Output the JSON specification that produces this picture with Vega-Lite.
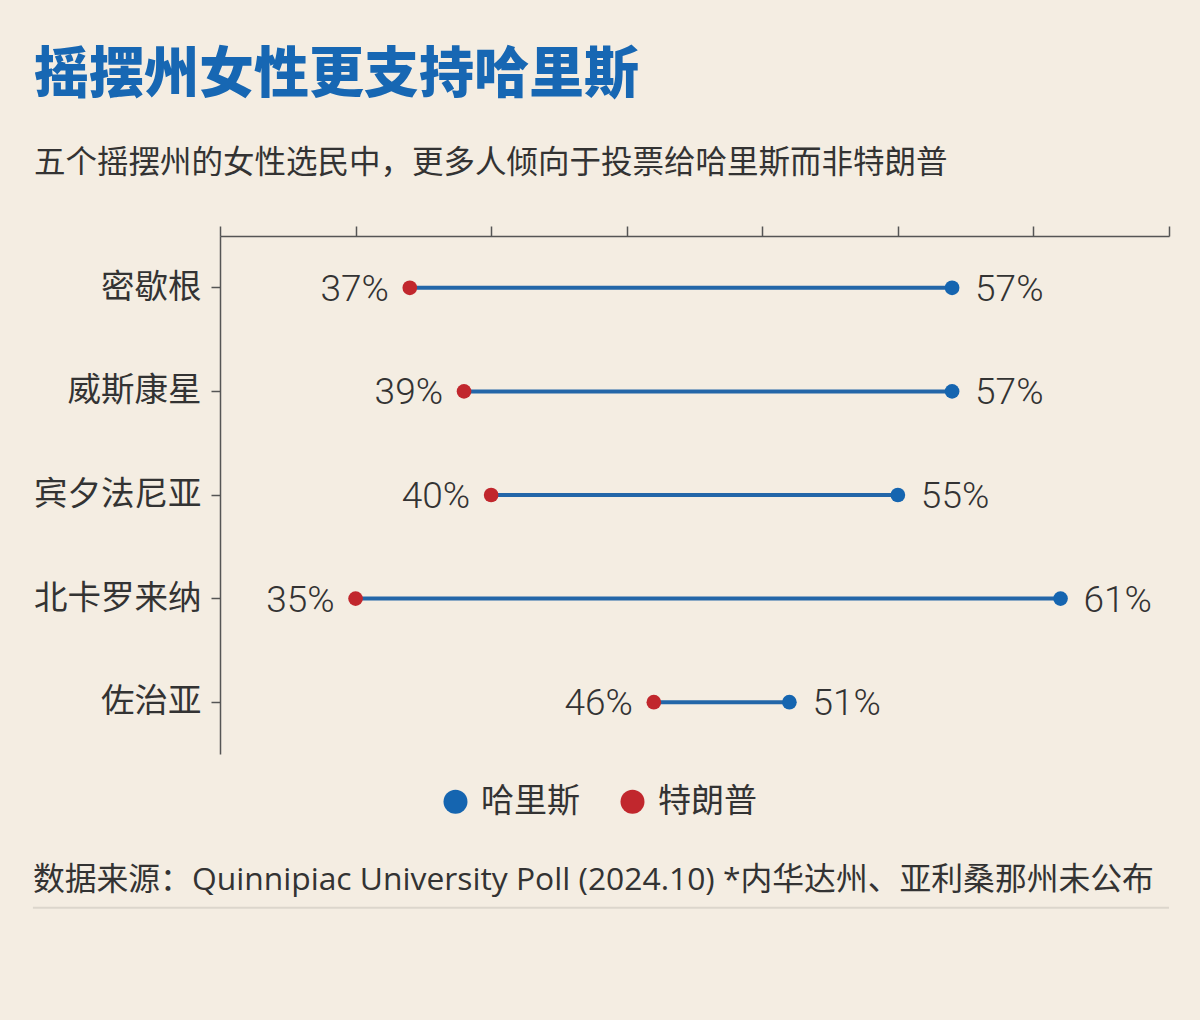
{
  "$schema": "https://vega.github.io/schema/vega-lite/v6.json",
  "width": 949,
  "height": 518,
  "autosize": "none",
  "padding": {"left": 220, "top": 236, "right": 31, "bottom": 266},
  "background": "#f4ede2",
  "config": {"view": {"stroke": null}, "font": "Noto Sans CJK SC"},
  "title": {
    "text": "摇摆州女性更支持哈里斯",
    "subtitle": "五个摇摆州的女性选民中，更多人倾向于投票给哈里斯而非特朗普",
    "anchor": "start",
    "frame": "group",
    "dx": -186,
    "offset": 45,
    "font": "Noto Sans CJK SC",
    "fontSize": 55,
    "fontWeight": 900,
    "color": "#1767b3",
    "subtitleFont": "Noto Sans CJK SC",
    "subtitleFontSize": 31.5,
    "subtitleFontWeight": 400,
    "subtitleColor": "#333333",
    "subtitlePadding": 44
  },
  "layer": [
    {
      "data": {"values": [
        {"州": "密歇根", "哈里斯": 57, "特朗普": 37},
        {"州": "威斯康星", "哈里斯": 57, "特朗普": 39},
        {"州": "宾夕法尼亚", "哈里斯": 55, "特朗普": 40},
        {"州": "北卡罗来纳", "哈里斯": 61, "特朗普": 35},
        {"州": "佐治亚", "哈里斯": 51, "特朗普": 46}
      ]},
      "encoding": {
        "y": {
          "field": "州", "type": "nominal", "sort": null,
          "scale": {"domain": ["密歇根", "威斯康星", "宾夕法尼亚", "北卡罗来纳", "佐治亚"]},
          "axis": {"title": null, "orient": "left", "labelFontSize": 33.5, "labelColor": "#333333", "labelFont": "Noto Sans CJK SC",
                   "tickSize": 9, "tickColor": "#555555", "tickWidth": 1.5, "domainColor": "#555555", "domainWidth": 1.5, "labelPadding": 10}
        }
      },
      "layer": [
        {
          "mark": {"type": "rule", "color": "#2366a8", "strokeWidth": 4},
          "encoding": {
            "x": {"field": "特朗普", "type": "quantitative",
                  "scale": {"domain": [30, 65], "nice": false},
                  "axis": {"orient": "top", "values": [30, 35, 40, 45, 50, 55, 60, 65], "labels": false, "title": null, "grid": false,
                           "tickSize": 10, "tickColor": "#555555", "tickWidth": 1.5, "domainColor": "#555555", "domainWidth": 1.5}},
            "x2": {"field": "哈里斯"}
          }
        },
        {
          "transform": [{"fold": ["哈里斯", "特朗普"], "as": ["候选人", "支持率"]}],
          "mark": {"type": "circle", "size": 215, "opacity": 1},
          "encoding": {
            "x": {"field": "支持率", "type": "quantitative"},
            "color": {"field": "候选人", "type": "nominal",
              "scale": {"domain": ["哈里斯", "特朗普"], "range": ["#1565b0", "#c1272d"]},
              "legend": {"orient": "none", "legendX": 219, "legendY": 549, "direction": "horizontal", "title": null,
                         "symbolType": "circle", "symbolSize": 576, "symbolStrokeWidth": 0, "symbolOpacity": 1,
                         "labelFontSize": 33, "labelColor": "#333333", "labelFont": "Noto Sans CJK SC",
                         "labelOffset": 9, "columnPadding": 36}}
          }
        },
        {
          "transform": [{"calculate": "datum['特朗普'] + '%'", "as": "左标签"}],
          "mark": {"type": "text", "align": "right", "baseline": "middle", "dx": -21, "dy": 2, "font": "Roboto", "fontWeight": 300, "fontSize": 37, "color": "#333333"},
          "encoding": {
            "x": {"field": "特朗普", "type": "quantitative"},
            "text": {"field": "左标签"}
          }
        },
        {
          "transform": [{"calculate": "datum['哈里斯'] + '%'", "as": "右标签"}],
          "mark": {"type": "text", "align": "left", "baseline": "middle", "dx": 23, "dy": 2, "font": "Roboto", "fontWeight": 300, "fontSize": 37, "color": "#333333"},
          "encoding": {
            "x": {"field": "哈里斯", "type": "quantitative"},
            "text": {"field": "右标签"}
          }
        }
      ]
    },
    {
      "data": {"values": [{"注": "数据来源：Quinnipiac University Poll (2024.10) *内华达州、亚利桑那州未公布"}]},
      "layer": [
        {
          "mark": {"type": "rule", "color": "#dcd6cc", "strokeWidth": 2},
          "encoding": {
            "x": {"datum": 23.1, "type": "quantitative", "scale": {"domain": [30, 65], "nice": false}},
            "x2": {"datum": 65},
            "y": {"datum": -0.297, "type": "quantitative", "scale": {"domain": [0, 1], "nice": false}, "axis": null}
          }
        },
        {
          "mark": {"type": "text", "align": "left", "baseline": "middle", "font": "Open Sans, Noto Sans CJK SC", "fontSize": 31.8, "fontWeight": 400, "color": "#333333"},
          "encoding": {
            "x": {"datum": 23.1, "type": "quantitative"},
            "y": {"datum": -0.243, "type": "quantitative", "scale": {"domain": [0, 1], "nice": false}, "axis": null},
            "text": {"field": "注"}
          }
        }
      ]
    }
  ],
  "resolve": {"scale": {"y": "independent"}}
}
